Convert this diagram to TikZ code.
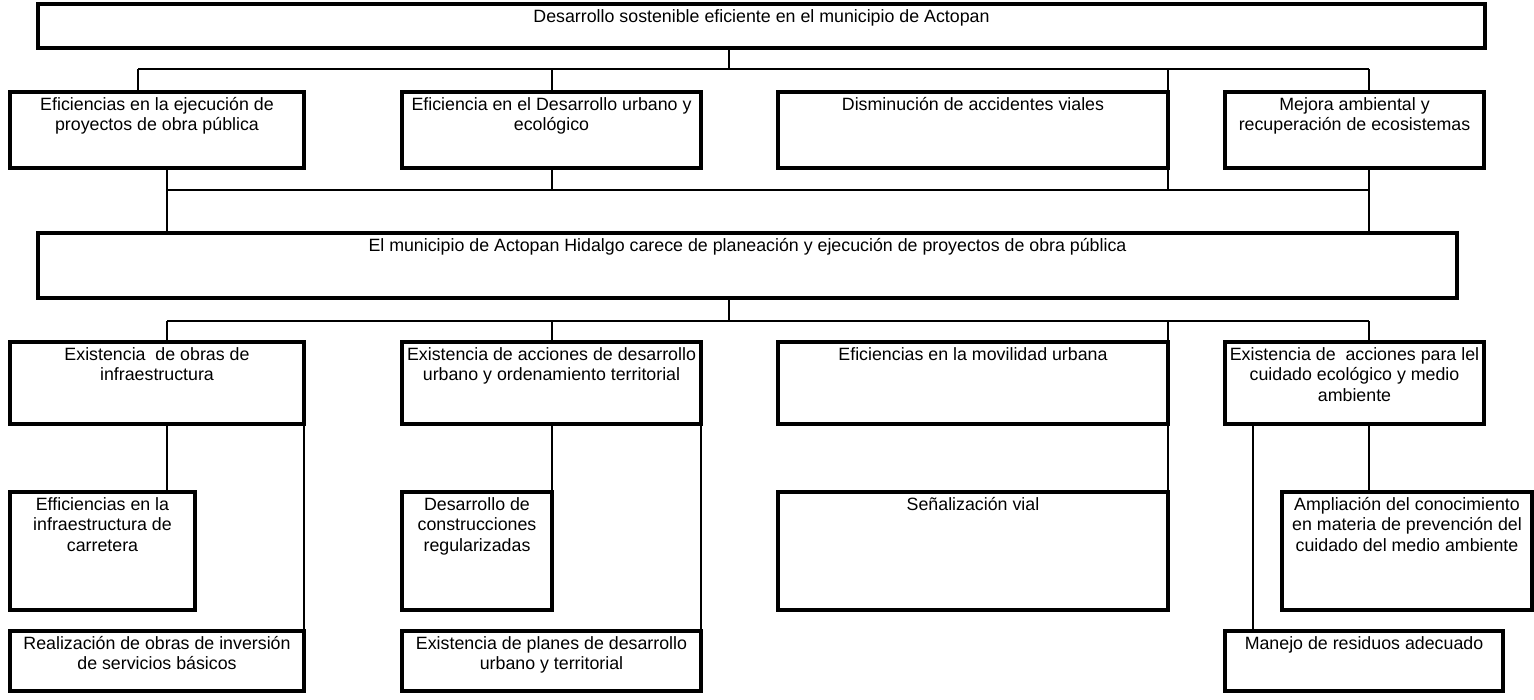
\documentclass[tikz,border=0pt]{standalone}
\usepackage{fontspec}
\setmainfont{Liberation Sans}
\tikzset{
  box/.style={draw=black, line width=3.3pt, inner sep=0pt, outer sep=0pt, anchor=north west,
    font=\fontsize{17.8pt}{20.5pt}\selectfont},
  conn/.style={draw=black, line width=2.2pt}
}
\newcommand{\bx}[6]{%
  \node[box] (#1) at (#2,#3) {\parbox[t][#5pt][t]{#4pt}{\centering\rule{0pt}{18pt}#6}};}
\begin{document}
\begin{tikzpicture}[x=1pt,y=-1pt]
\useasboundingbox (0,0) rectangle (1534,699);
% boxes
\bx{top}{38}{4}{1447}{44}{Desarrollo sostenible eficiente en el municipio de Actopan}
\bx{e1}{10}{92}{294}{76}{Eficiencias en la ejecución de\\proyectos de obra pública}
\bx{e2}{402}{92}{299}{76}{Eficiencia en el Desarrollo urbano y\\ecológico}
\bx{e3}{778}{92}{390}{76}{Disminución de accidentes viales}
\bx{e4}{1225}{92}{259}{76}{Mejora ambiental y\\recuperación de ecosistemas}
\bx{mid}{38}{233}{1419}{65}{El municipio de Actopan Hidalgo carece de planeación y ejecución de proyectos de obra pública}
\bx{c1}{10}{342}{294}{82}{Existencia\ \ de obras de\\infraestructura}
\bx{c2}{402}{342}{299}{82}{Existencia de acciones de desarrollo\\urbano y ordenamiento territorial}
\bx{c3}{778}{342}{390}{82}{Eficiencias en la movilidad urbana}
\bx{c4}{1225}{342}{259}{82}{Existencia de\ \ acciones para lel\\cuidado ecológico y medio\\ambiente}
\bx{d1}{10}{492}{185}{118}{Efficiencias en la\\infraestructura de\\carretera}
\bx{d2}{402}{492}{150}{118}{Desarrollo de\\construcciones\\regularizadas}
\bx{d3}{778}{492}{390}{118}{Señalización vial}
\bx{d4}{1282}{492}{250}{118}{Ampliación del conocimiento\\en materia de prevención del\\cuidado del medio ambiente}
\bx{f1}{10}{631}{294}{60}{Realización de obras de inversión\\de servicios básicos}
\bx{f2}{402}{631}{299}{60}{Existencia de planes de desarrollo\\urbano y territorial}
\bx{f4}{1225}{631}{278}{60}{Manejo de residuos adecuado}
% bus coordinates
\coordinate (tc) at (729,69);
\coordinate (t1) at (138,69);
\coordinate (t2) at (552,69);
\coordinate (t3) at (1168,69);
\coordinate (t4) at (1369,69);
\coordinate (u1) at (167,190);
\coordinate (u2) at (552,190);
\coordinate (u3) at (1168,190);
\coordinate (u4) at (1369,190);
\coordinate (mc) at (729,321);
\coordinate (v1) at (167,321);
\coordinate (v2) at (552,321);
\coordinate (v3) at (1168,321);
\coordinate (v4) at (1369,321);
\coordinate (w4) at (1253,0);
% top level
\draw[conn] (top.south -| tc) -- (tc);
\draw[conn] (t1) -- (t4);
\draw[conn] (t1) -- (t1 |- e1.north);
\draw[conn] (t2) -- (t2 |- e2.north);
\draw[conn] (t3) -- (e3.north east);
\draw[conn] (t4) -- (t4 |- e4.north);
% second bus
\draw[conn] (u1) -- (u4);
\draw[conn] (u1 |- e1.south) -- (u1);
\draw[conn] (u2 |- e2.south) -- (u2);
\draw[conn] (e3.south east) -- (u3);
\draw[conn] (u4 |- e4.south) -- (u4);
\draw[conn] (u1) -- (u1 |- mid.north);
\draw[conn] (u4) -- (u4 |- mid.north);
% third bus
\draw[conn] (mid.south -| mc) -- (mc);
\draw[conn] (v1) -- (v4);
\draw[conn] (v1) -- (v1 |- c1.north);
\draw[conn] (v2) -- (v2 |- c2.north);
\draw[conn] (v3) -- (c3.north east);
\draw[conn] (v4) -- (v4 |- c4.north);
% lower level
\draw[conn] (v1 |- c1.south) -- (v1 |- d1.north);
\draw[conn] (c1.south east) -- (f1.north east);
\draw[conn] (d2.north east |- c2.south) -- (d2.north east);
\draw[conn] (c2.south east) -- (f2.north east);
\draw[conn] (c3.south east) -- (d3.north east);
\draw[conn] (w4 |- c4.south) -- (w4 |- f4.north);
\draw[conn] (v4 |- c4.south) -- (v4 |- d4.north);
\end{tikzpicture}
\end{document}
